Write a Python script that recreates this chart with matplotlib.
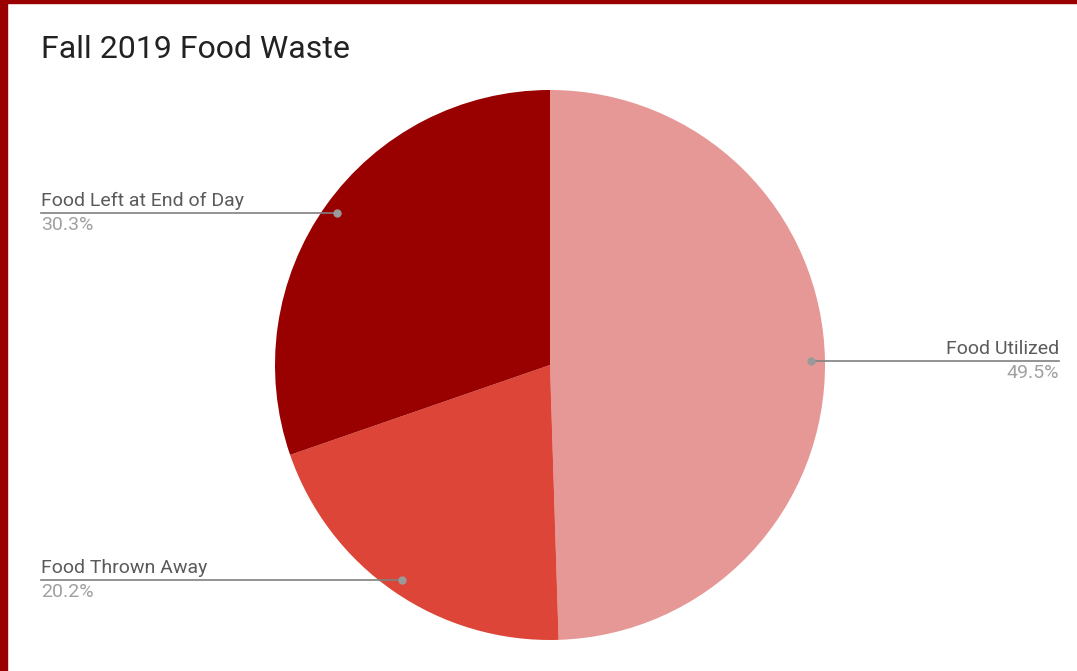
import matplotlib.pyplot as plt
from matplotlib.patches import Rectangle
import numpy as np

labels = ['Food Utilized', 'Food Thrown Away', 'Food Left at End of Day']
values = [49.5, 20.2, 30.3]
pct_text = ['49.5%', '20.2%', '30.3%']
colors = ['#e69896', '#dc4537', '#990000']

W, H = 1077, 671
cx, cy, R = 550, 365, 275

plt.rcParams['font.family'] = ['Roboto', 'DejaVu Sans']
fig = plt.figure(figsize=(W / 100, H / 100), dpi=100)
ax = fig.add_axes([0, 0, 1, 1])
ax.axis('off')

wedges, _ = ax.pie(values, colors=colors, startangle=90, counterclock=False,
                   radius=R, wedgeprops=dict(linewidth=0))
ax.set_xlim(-cx, W - cx)
ax.set_ylim(-(H - cy), cy)
ax.set_aspect('auto')

# leader lines + labels
for w, lab, pct in zip(wedges, labels, pct_text):
    mid = np.deg2rad((w.theta1 + w.theta2) / 2)
    px, py = 0.95 * R * np.cos(mid), 0.95 * R * np.sin(mid)
    if px > 0:
        xe, ha = W - 18 - cx, 'right'
    else:
        xe, ha = 41 - cx, 'left'
    ax.plot([px, xe], [py, py], color='#808080', lw=1.2, zorder=3)
    ax.plot(px, py, 'o', color='#9a9a9a', ms=5, zorder=4)
    ax.text(xe, py + 3, lab, ha=ha, va='bottom', fontsize=14, color='#5a5a5a')
    ax.text(xe, py - 3, pct, ha=ha, va='top', fontsize=14, color='#a0a0a0')

fig.text(41 / W, 1 - 50 / H, 'Fall 2019 Food Waste', fontsize=23,
         color='#222222', va='center', ha='left')

# frame edges
fig.patches.append(Rectangle((0, 0), 7 / W, 1, transform=fig.transFigure,
                             color='#9b0000', zorder=10))
fig.patches.append(Rectangle((0, 1 - 3 / H), 1, 3 / H, transform=fig.transFigure,
                             color='#9b0000', zorder=10))

fig.savefig('out.png', dpi=100)
